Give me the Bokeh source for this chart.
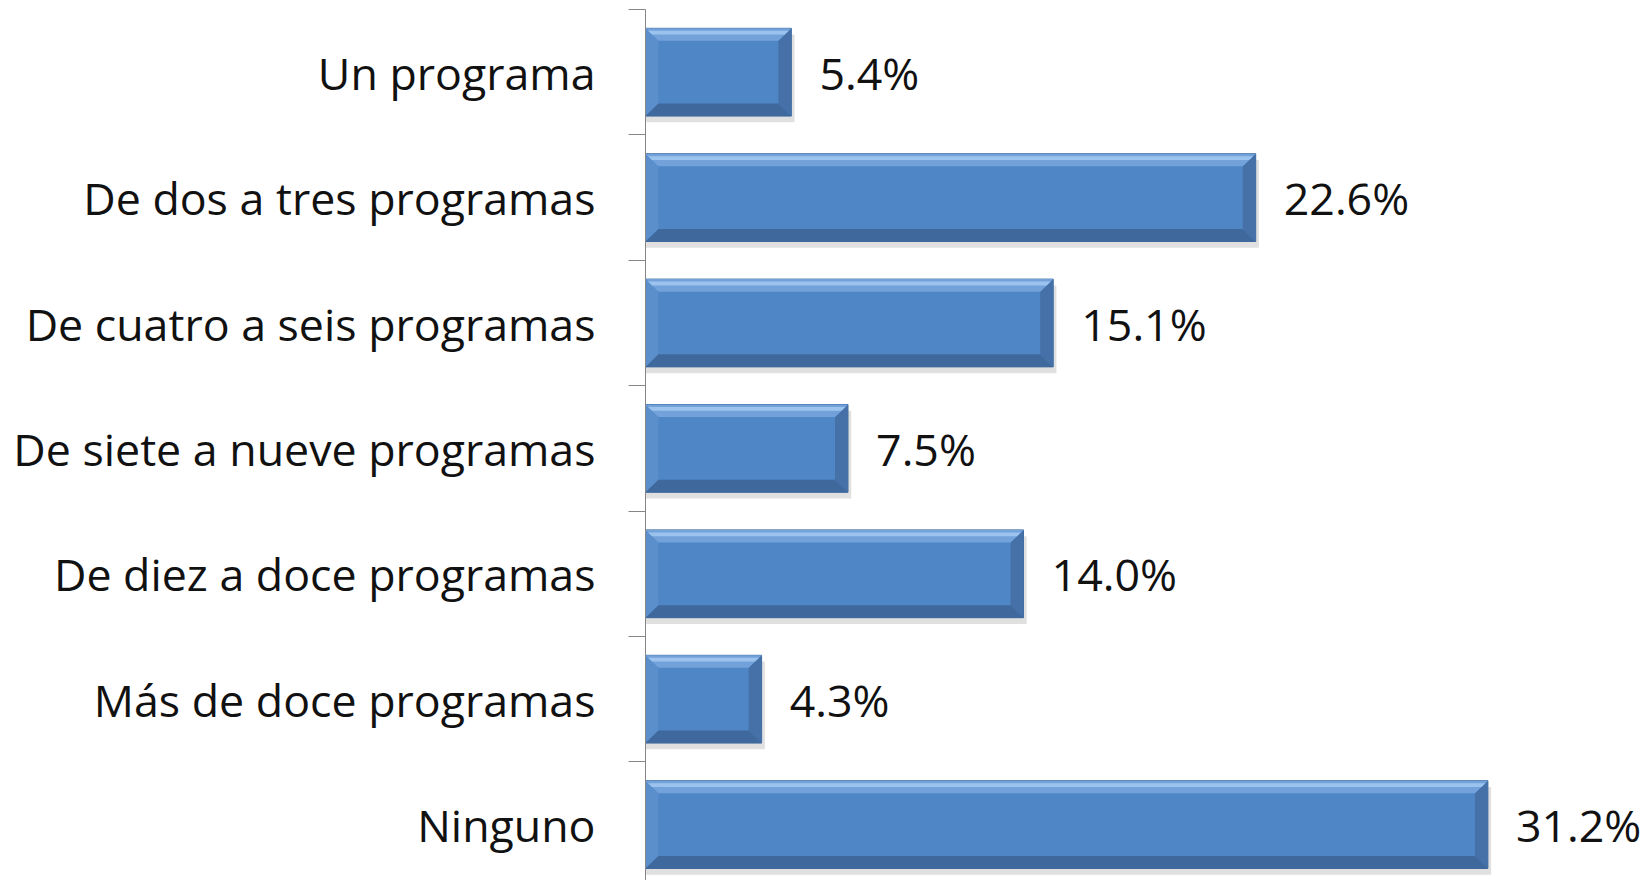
from bokeh.plotting import figure
from bokeh.models import Range1d, FixedTicker, ColumnDataSource
from bokeh.core.properties import value
from bokeh.embed import file_html
from bokeh.resources import INLINE

categories = ["Un programa", "De dos a tres programas", "De cuatro a seis programas",
              "De siete a nueve programas", "De diez a doce programas",
              "Más de doce programas", "Ninguno"]
values = [5.4, 22.6, 15.1, 7.5, 14.0, 4.3, 31.2]
value_labels = ["5.4%", "22.6%", "15.1%", "7.5%", "14.0%", "4.3%", "31.2%"]

FONT = "Open Sans"
FS = "44.7px"

ypos = list(range(len(categories)))
half = 0.35
dx = 0.48   # bevel width in x units
dy = 0.10   # bevel width in y units

W, H = 1640, 880
left_border, top_border = 645, 9
px_per_x = 27.0
px_per_y = 125.4
x_end = (W - left_border) / px_per_x
y_start = -0.5 + (H - top_border) / px_per_y

p = figure(width=W, height=H, output_backend="svg", toolbar_location=None,
           x_range=Range1d(0, x_end), y_range=Range1d(y_start, -0.5),
           min_border_left=left_border, min_border_top=top_border,
           min_border_bottom=0, min_border_right=0)
p.outline_line_color = None
p.xaxis.visible = False
p.xgrid.visible = False
p.ygrid.visible = False
p.background_fill_color = "white"

# shadow
sh = ColumnDataSource(dict(left=[0.0]*7, right=[v + 0.12 for v in values],
                           top=[y - half + 0.05 for y in ypos], bottom=[y + half + 0.05 for y in ypos]))
p.quad(left="left", right="right", top="top", bottom="bottom", source=sh,
       fill_color="#000000", fill_alpha=0.12, line_color=None)

# main bar
p.hbar(y=ypos, right=values, left=0, height=2 * half, fill_color="#4F86C6", line_color="#3D6A9E", line_width=1)

# bevels
top_xs, top_ys, top2_xs, top2_ys, bot_xs, bot_ys, lft_xs, lft_ys, rgt_xs, rgt_ys = ([] for _ in range(10))
for y, v in zip(ypos, values):
    T, B, L, R = y - half, y + half, 0.0, v
    top_xs.append([L, R, R - dx, L + dx]); top_ys.append([T, T, T + dy, T + dy])
    top2_xs.append([L + dx * 0.2, R - dx * 0.2, R - dx * 0.5, L + dx * 0.5])
    top2_ys.append([T + dy * 0.2, T + dy * 0.2, T + dy * 0.5, T + dy * 0.5])
    bot_xs.append([L, R, R - dx, L + dx]); bot_ys.append([B, B, B - dy, B - dy])
    lft_xs.append([L, L + dx, L + dx, L]); lft_ys.append([T, T + dy, B - dy, B])
    rgt_xs.append([R, R - dx, R - dx, R]); rgt_ys.append([T, T + dy, B - dy, B])
p.patches(lft_xs, lft_ys, fill_color="#5A8FCC", line_color=None)
p.patches(rgt_xs, rgt_ys, fill_color="#4571A8", line_color=None)
p.patches(top_xs, top_ys, fill_color="#73A2DB", line_color=None)
p.patches(top2_xs, top2_ys, fill_color="#9CC3EE", line_color=None)
p.patches(bot_xs, bot_ys, fill_color="#3F699D", line_color=None)

# value labels
p.text(x=[v + 1.04 for v in values], y=ypos, text=value_labels,
       text_font=value(FONT), text_font_size=FS, text_color="#111111",
       text_baseline="middle", text_align="left")

ax = p.yaxis[0]
ax.ticker = FixedTicker(ticks=ypos, minor_ticks=[y - 0.5 for y in ypos] + [6.5])
ax.major_label_overrides = {y: c for y, c in zip(ypos, categories)}
ax.major_label_text_font = FONT
ax.major_label_text_font_size = FS
ax.major_label_text_color = "#111111"
ax.major_label_standoff = 33
ax.major_tick_out = 0
ax.major_tick_in = 0
ax.minor_tick_out = 17
ax.minor_tick_in = 0
ax.axis_line_color = "#868686"
ax.minor_tick_line_color = "#868686"

open("out.html", "w").write(file_html(p, INLINE))
